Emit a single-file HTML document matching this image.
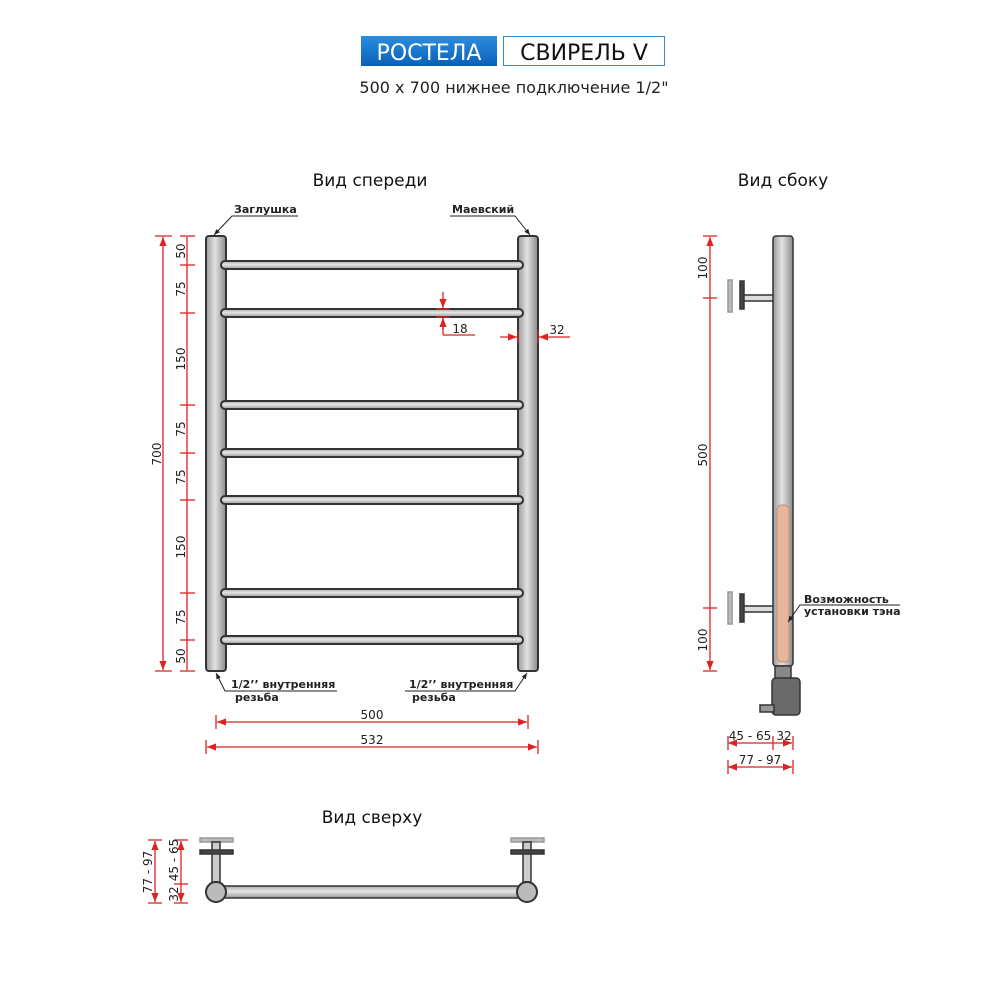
<!DOCTYPE html>
<html><head><meta charset="utf-8"><style>
body{margin:0;background:#fff}
svg text{font-family:"DejaVu Sans","Liberation Sans",sans-serif}
</style></head><body>
<svg width="1000" height="1000" viewBox="0 0 1000 1000" xmlns="http://www.w3.org/2000/svg">
<defs>
<linearGradient id="pv" x1="0" x2="1" y1="0" y2="0"><stop offset="0" stop-color="#9a9a9a"/><stop offset="0.45" stop-color="#e2e2e2"/><stop offset="1" stop-color="#8a8a8a"/></linearGradient>
<linearGradient id="ph" x1="0" x2="0" y1="0" y2="1"><stop offset="0" stop-color="#aaa"/><stop offset="0.45" stop-color="#e6e6e6"/><stop offset="1" stop-color="#999"/></linearGradient>
<linearGradient id="bl" x1="0" x2="0" y1="0" y2="1"><stop offset="0" stop-color="#2a8ee0"/><stop offset="1" stop-color="#0a5fb8"/></linearGradient>
<marker id="a" viewBox="0 0 10 10" refX="10" refY="5" markerWidth="7" markerHeight="7" orient="auto-start-reverse"><path d="M0,1 L10,5 L0,9 z" fill="#d22"/></marker>
<marker id="k" viewBox="0 0 10 10" refX="10" refY="5" markerWidth="6" markerHeight="6" orient="auto"><path d="M0,1 L10,5 L0,9 z" fill="#222"/></marker>
</defs>

<rect x="361" y="36" width="136" height="30" fill="url(#bl)"/>
<text x="429" y="60" fill="#fff" font-size="22" text-anchor="middle" font-family="Liberation Sans">РОСТЕЛА</text>
<rect x="503.5" y="36.5" width="161" height="29" fill="#fff" stroke="#3a8ad0"/>
<text x="584" y="60" fill="#111" font-size="22" text-anchor="middle" font-family="Liberation Sans">СВИРЕЛЬ V</text>
<text x="514" y="93" font-size="16" text-anchor="middle" fill="#222">500 x 700 нижнее подключение 1/2"</text>

<text x="370" y="186" font-size="17" text-anchor="middle" fill="#111">Вид спереди</text>
<text x="783" y="186" font-size="17" text-anchor="middle" fill="#111">Вид сбоку</text>
<text x="372" y="823" font-size="17" text-anchor="middle" fill="#111">Вид сверху</text>

<g stroke="#333" stroke-width="2">
<rect x="206" y="236" width="20" height="435" rx="3" fill="url(#pv)"/>
<rect x="518" y="236" width="20" height="435" rx="3" fill="url(#pv)"/>
<g fill="url(#ph)">
<rect x="221" y="261" width="302" height="8" rx="4"/>
<rect x="221" y="309" width="302" height="8" rx="4"/>
<rect x="221" y="401" width="302" height="8" rx="4"/>
<rect x="221" y="449" width="302" height="8" rx="4"/>
<rect x="221" y="496" width="302" height="8" rx="4"/>
<rect x="221" y="589" width="302" height="8" rx="4"/>
<rect x="221" y="636" width="302" height="8" rx="4"/>
</g>
</g>
<g stroke="#d22" stroke-width="1.3" fill="none">
<line x1="163" y1="237" x2="163" y2="670" marker-start="url(#a)" marker-end="url(#a)"/>
<line x1="155" y1="236" x2="172" y2="236"/><line x1="155" y1="671" x2="172" y2="671"/>
<line x1="187" y1="237" x2="187" y2="670"/>
<line x1="180" y1="236" x2="195" y2="236"/><line x1="180" y1="265" x2="195" y2="265"/><line x1="180" y1="313" x2="195" y2="313"/><line x1="180" y1="405" x2="195" y2="405"/><line x1="180" y1="453" x2="195" y2="453"/><line x1="180" y1="500" x2="195" y2="500"/><line x1="180" y1="593" x2="195" y2="593"/><line x1="180" y1="640" x2="195" y2="640"/><line x1="180" y1="671" x2="195" y2="671"/>
<line x1="443" y1="292" x2="443" y2="308" marker-end="url(#a)"/>
<line x1="443" y1="330" x2="443" y2="318" marker-end="url(#a)"/>
<line x1="436" y1="309" x2="450" y2="309"/><line x1="436" y1="317" x2="450" y2="317"/>
<line x1="443" y1="318" x2="443" y2="335"/><line x1="443" y1="335" x2="475" y2="335"/>
<line x1="500" y1="337" x2="517" y2="337" marker-end="url(#a)"/>
<line x1="570" y1="337" x2="539" y2="337" marker-end="url(#a)"/>
<line x1="518" y1="330" x2="518" y2="343"/><line x1="538" y1="330" x2="538" y2="343"/>
<line x1="217" y1="722" x2="527" y2="722" marker-start="url(#a)" marker-end="url(#a)"/>
<line x1="216" y1="715" x2="216" y2="729"/><line x1="528" y1="715" x2="528" y2="729"/>
<line x1="207" y1="747" x2="537" y2="747" marker-start="url(#a)" marker-end="url(#a)"/>
<line x1="206" y1="740" x2="206" y2="754"/><line x1="538" y1="740" x2="538" y2="754"/>
</g>
<g font-size="12" fill="#222" text-anchor="middle">
<text transform="translate(185,251) rotate(-90)">50</text>
<text transform="translate(185,289) rotate(-90)">75</text>
<text transform="translate(185,359) rotate(-90)">150</text>
<text transform="translate(185,429) rotate(-90)">75</text>
<text transform="translate(185,477) rotate(-90)">75</text>
<text transform="translate(185,547) rotate(-90)">150</text>
<text transform="translate(185,617) rotate(-90)">75</text>
<text transform="translate(185,656) rotate(-90)">50</text>
<text transform="translate(161,454) rotate(-90)">700</text>
<text x="460" y="333">18</text>
<text x="557" y="334">32</text>
<text x="372" y="719">500</text>
<text x="372" y="744">532</text>
</g>
<g font-size="11" fill="#222" font-weight="bold">
<text x="234" y="213">Заглушка</text>
<text x="452" y="213">Маевский</text>
<text x="231" y="688">1/2’’ внутренняя</text>
<text x="235" y="701">резьба</text>
<text x="409" y="688">1/2’’ внутренняя</text>
<text x="412" y="701">резьба</text>
</g>
<g stroke="#222" stroke-width="1" fill="none">
<polyline points="298,216 232,216 214,235" marker-end="url(#k)"/>
<polyline points="450,216 515,216 530,235" marker-end="url(#k)"/>
<polyline points="337,691 225,691 216,673" marker-end="url(#k)"/>
<polyline points="405,691 515,691 527,673" marker-end="url(#k)"/>
</g>

<g stroke="#333" stroke-width="1.5">
<rect x="728" y="280" width="4" height="32" fill="#bbb" stroke="#999"/>
<rect x="740" y="281" width="4" height="28" fill="#444"/>
<rect x="744" y="295" width="30" height="6" fill="#ddd"/>
<rect x="728" y="592" width="4" height="32" fill="#bbb" stroke="#999"/>
<rect x="740" y="594" width="4" height="28" fill="#444"/>
<rect x="744" y="606" width="30" height="6" fill="#ddd"/>
<rect x="773" y="236" width="20" height="430" rx="3" fill="url(#pv)"/>
<rect x="777" y="505" width="12" height="157" rx="5" fill="#e8b69a" stroke="#c89070" stroke-width="1"/>
<rect x="775" y="666" width="16" height="14" fill="#888"/>
<rect x="772" y="678" width="28" height="37" rx="4" fill="#6a6a6a"/>
<rect x="760" y="705" width="14" height="7" fill="#999"/>
</g>
<g stroke="#d22" stroke-width="1.3" fill="none">
<line x1="710" y1="237" x2="710" y2="670" marker-start="url(#a)" marker-end="url(#a)"/>
<line x1="703" y1="236" x2="717" y2="236"/><line x1="703" y1="298" x2="717" y2="298"/><line x1="703" y1="608" x2="717" y2="608"/><line x1="703" y1="671" x2="717" y2="671"/>
<line x1="728" y1="743" x2="792" y2="743" marker-start="url(#a)" marker-end="url(#a)"/>
<line x1="728" y1="736" x2="728" y2="750"/><line x1="773" y1="736" x2="773" y2="750"/><line x1="793" y1="736" x2="793" y2="750"/>
<line x1="728" y1="767" x2="792" y2="767" marker-start="url(#a)" marker-end="url(#a)"/>
<line x1="728" y1="760" x2="728" y2="774"/><line x1="793" y1="760" x2="793" y2="774"/>
</g>
<g font-size="12" fill="#222" text-anchor="middle">
<text transform="translate(707,268) rotate(-90)">100</text>
<text transform="translate(707,455) rotate(-90)">500</text>
<text transform="translate(707,640) rotate(-90)">100</text>
<text x="750" y="740">45 - 65</text>
<text x="784" y="740">32</text>
<text x="760" y="764">77 - 97</text>
</g>
<g font-size="11" fill="#222" font-weight="bold">
<text x="804" y="603">Возможность</text>
<text x="804" y="615">установки тэна</text>
</g>
<polyline points="900,605 800,605 788,622" fill="none" stroke="#222" stroke-width="1" marker-end="url(#k)"/>

<g stroke="#333" stroke-width="1.5">
<rect x="200" y="838" width="33" height="4" fill="#bbb" stroke="#999"/>
<rect x="212" y="842" width="8" height="40" fill="#ccc"/>
<rect x="200" y="850" width="33" height="4" fill="#444"/>
<rect x="511" y="838" width="33" height="4" fill="#bbb" stroke="#999"/>
<rect x="523" y="842" width="8" height="40" fill="#ccc"/>
<rect x="511" y="850" width="33" height="4" fill="#444"/>
<rect x="216" y="886" width="311" height="12" fill="url(#ph)"/>
<circle cx="216" cy="892" r="10" fill="#bbb" stroke-width="2"/>
<circle cx="527" cy="892" r="10" fill="#bbb" stroke-width="2"/>
</g>
<g stroke="#d22" stroke-width="1.3" fill="none">
<line x1="155" y1="841" x2="155" y2="902" marker-start="url(#a)" marker-end="url(#a)"/>
<line x1="148" y1="840" x2="162" y2="840"/><line x1="148" y1="903" x2="162" y2="903"/>
<line x1="181" y1="841" x2="181" y2="902" marker-start="url(#a)" marker-end="url(#a)"/>
<line x1="174" y1="840" x2="188" y2="840"/><line x1="174" y1="884" x2="188" y2="884"/><line x1="174" y1="903" x2="188" y2="903"/>
</g>
<g font-size="12" fill="#222" text-anchor="middle">
<text transform="translate(152,872) rotate(-90)">77 - 97</text>
<text transform="translate(178,860) rotate(-90)">45 - 65</text>
<text transform="translate(178,894) rotate(-90)">32</text>
</g>
</svg>
</body></html>
